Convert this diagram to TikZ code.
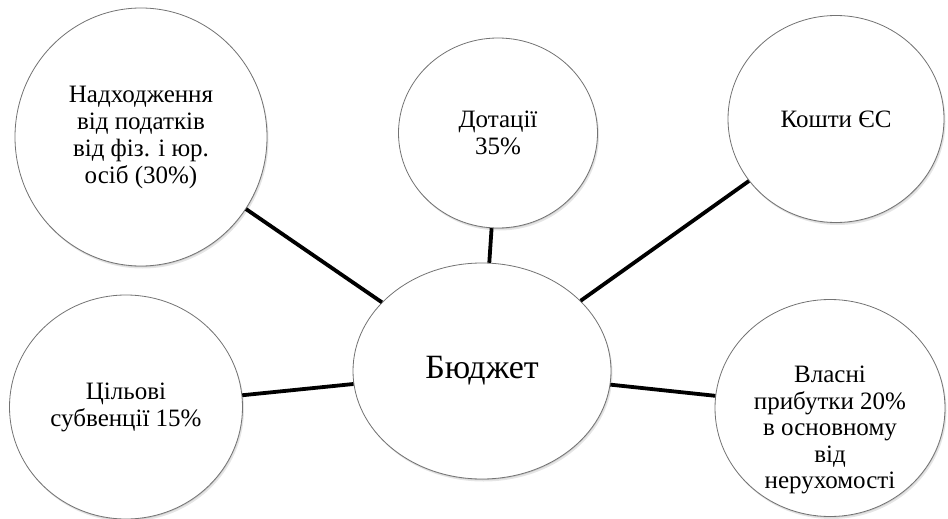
\documentclass[tikz,border=0pt]{standalone}
\usepackage{fontspec}
\setmainfont{Liberation Serif}
\usetikzlibrary{shapes.geometric,shadows}

\tikzset{
  bubble/.style={ellipse, draw=black!55, line width=0.8pt, fill=white, inner sep=0pt,
    align=center, font=\fontsize{25}{27}\selectfont,
    drop shadow={shadow xshift=0.5pt, shadow yshift=-1pt, fill=black, opacity=0.12},
    drop shadow={shadow xshift=1.5pt, shadow yshift=-2.5pt, fill=black, opacity=0.10}},
  link/.style={line width=3.8pt, black}
}

\begin{document}
\begin{tikzpicture}[x=1pt, y=-1pt]

  \useasboundingbox (0,0) rectangle (948,519);

  \node[bubble, minimum width=258pt, minimum height=216pt, font=\fontsize{34}{38}\selectfont] (budget) at (482,371) {Бюджет};

  \node[bubble, minimum width=252pt, minimum height=258pt] (taxes) at (141,137) {Надходження\\від податків\\від фіз. і юр.\\осіб (30\%)};
  \node[bubble, minimum width=199pt, minimum height=190pt] (grants) at (498,133) {Дотації\\35\%};
  \node[bubble, minimum width=216pt, minimum height=207pt] (eu) at (836,119) {Кошти ЄС};
  \node[bubble, minimum width=233pt, minimum height=224pt] (subv) at (126,407) {Цільові\\субвенції 15\%};
  \node[bubble, minimum width=230pt, minimum height=217pt,
    label={[align=center, font=\fontsize{25}{26.5}\selectfont, yshift=-22pt]center:Власні\\прибутки 20\%\\в основному\\від\\нерухомості}] (own) at (830,408) {};

  \draw[link] (taxes) -- (budget);
  \draw[link] (grants) -- (budget);
  \draw[link] (eu) -- (budget);
  \draw[link] (subv) -- (budget);
  \draw[link] (own) -- (budget);

\end{tikzpicture}
\end{document}
